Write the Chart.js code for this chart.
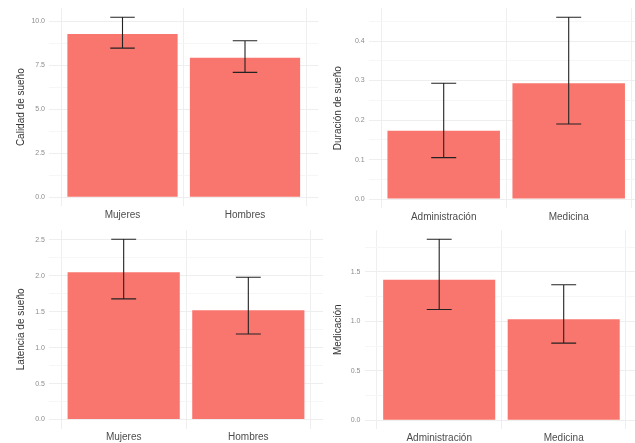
<!DOCTYPE html>
<html>
<head>
<meta charset="utf-8">
<script src="https://cdn.jsdelivr.net/npm/chart.js@4.4.1/dist/chart.umd.min.js"></script>
<style>
  html, body { margin: 0; padding: 0; background: #fff; overflow: hidden; }
  body { width: 635px; height: 443px; position: relative; }
  canvas { position: absolute; }
</style>
</head>
<body>
<canvas id="c1"></canvas>
<canvas id="c2"></canvas>
<canvas id="c3"></canvas>
<canvas id="c4"></canvas>
<script>
// categorias
const generoCats = ['Mujeres', 'Hombres'];
const carreraCats = ['Administración', 'Medicina'];

// medias e intervalos
const calidadMedia = [9.28, 7.94];
const calidadInf = [8.48, 7.10];
const calidadSup = [10.24, 8.90];

const duracionMedia = [0.173, 0.293];
const duracionInf = [0.105, 0.190];
const duracionSup = [0.293, 0.460];

const latenciaMedia = [2.05, 1.52];
const latenciaInf = [1.68, 1.19];
const latenciaSup = [2.51, 1.98];

const medicacionMedia = [1.42, 1.02];
const medicacionInf = [1.12, 0.78];
const medicacionSup = [1.83, 1.37];

// marcas del eje y (mayores y menores)
const calidadTicks = [0, 2.5, 5, 7.5, 10];
const calidadMinor = [1.25, 3.75, 6.25, 8.75];
const duracionTicks = [0, 0.1, 0.2, 0.3, 0.4];
const duracionMinor = [0.05, 0.15, 0.25, 0.35, 0.45];
const latenciaTicks = [0, 0.5, 1, 1.5, 2, 2.5];
const latenciaMinor = [0.25, 0.75, 1.25, 1.75, 2.25];
const medicacionTicks = [0, 0.5, 1, 1.5];
const medicacionMinor = [0.25, 0.75, 1.25, 1.75];

const FONT = "'Liberation Sans', Arial, sans-serif";
const BAR_COLOR = '#F8766D';

// barras de error dibujadas con las escalas del grafico
const errorBars = {
  id: 'errorBars',
  afterDatasetsDraw(chart, args, opts) {
    const {ctx} = chart;
    const xs = chart.scales.x, ys = chart.scales.y;
    ctx.save();
    ctx.strokeStyle = '#222';
    ctx.lineWidth = 1.1;
    opts.inf.forEach((lo, i) => {
      const hi = opts.sup[i];
      const xc = xs.getPixelForValue(i + 1);
      const x0 = xs.getPixelForValue(i + 1 - 0.1);
      const x1 = xs.getPixelForValue(i + 1 + 0.1);
      const yl = ys.getPixelForValue(lo);
      const yh = ys.getPixelForValue(hi);
      ctx.beginPath();
      ctx.moveTo(xc, yl); ctx.lineTo(xc, yh);
      ctx.moveTo(x0, yl); ctx.lineTo(x1, yl);
      ctx.moveTo(x0, yh); ctx.lineTo(x1, yh);
      ctx.stroke();
    });
    ctx.restore();
  }
};

function makePanel(id, box, area, cats, media, inf, sup, major, minor, titulo) {
  const canvas = document.getElementById(id);
  canvas.width = box.w; canvas.height = box.h;
  canvas.style.left = box.x + 'px'; canvas.style.top = box.y + 'px';

  const maxData = Math.max(...sup);
  const yMin = -0.05 * maxData, yMax = 1.05 * maxData;
  const allTicks = major.concat(minor).filter(v => v >= yMin && v <= yMax).sort((a, b) => a - b);

  new Chart(canvas, {
    type: 'bar',
    data: {
      datasets: [{
        data: media.map((v, i) => ({x: i + 1, y: v})),
        backgroundColor: BAR_COLOR,
        borderWidth: 0,
        barPercentage: 0.9,
        categoryPercentage: 1.0
      }]
    },
    options: {
      responsive: false,
      animation: false,
      devicePixelRatio: 1,
      layout: { padding: { left: 0, top: area.T - box.y, right: box.x + box.w - area.R, bottom: 0 } },
      plugins: {
        legend: { display: false },
        tooltip: { enabled: false },
        errorBars: { inf: inf, sup: sup }
      },
      scales: {
        x: {
          type: 'linear',
          min: 0.4, max: 2.6,
          offset: false,
          border: { display: false },
          grid: { color: '#efefef', lineWidth: 1, drawTicks: false },
          afterBuildTicks: s => { s.ticks = cats.map((c, i) => ({value: i + 1})); },
          afterFit: s => { s.height = box.y + box.h - area.B; },
          ticks: {
            padding: 3,
            color: '#4d4d4d',
            font: { family: FONT, size: 10 },
            maxRotation: 0,
            callback: v => cats[Math.round(v) - 1]
          }
        },
        y: {
          min: yMin, max: yMax,
          border: { display: false },
          grid: {
            drawTicks: false,
            lineWidth: 1,
            color: c => (c.tick && major.includes(c.tick.value)) ? '#eeeeee' : '#f6f6f6'
          },
          afterBuildTicks: s => { s.ticks = allTicks.map(v => ({value: v})); },
          afterFit: s => { s.width = area.L - box.x; },
          title: {
            display: true,
            text: titulo,
            color: '#333',
            font: { family: FONT, size: 10 },
            padding: { top: area.tp, bottom: 0 }
          },
          ticks: {
            padding: 4,
            color: '#8c8c8c',
            font: { family: FONT, size: 7 },
            callback: v => major.includes(v) ? v.toFixed(1) : ''
          }
        }
      }
    },
    plugins: [errorBars]
  });
}

makePanel('c1', {x: 0, y: 0, w: 322, h: 222}, {L: 49, T: 3.8, R: 318.5, B: 206.2, tp: 15},
  generoCats, calidadMedia, calidadInf, calidadSup, calidadTicks, calidadMinor, 'Calidad de sueño');
makePanel('c2', {x: 318, y: 0, w: 330, h: 222}, {L: 368.7, T: 5, R: 643.7, B: 208.2, tp: 14},
  carreraCats, duracionMedia, duracionInf, duracionSup, duracionTicks, duracionMinor, 'Duración de sueño');
makePanel('c3', {x: 0, y: 222, w: 326, h: 221}, {L: 48.9, T: 225.1, R: 323.1, B: 428.5, tp: 15},
  generoCats, latenciaMedia, latenciaInf, latenciaSup, latenciaTicks, latenciaMinor, 'Latencia de sueño');
makePanel('c4', {x: 318, y: 222, w: 325, h: 221}, {L: 364.5, T: 224.4, R: 638.4, B: 429.3, tp: 14},
  carreraCats, medicacionMedia, medicacionInf, medicacionSup, medicacionTicks, medicacionMinor, 'Medicación');
</script>
</body>
</html>
